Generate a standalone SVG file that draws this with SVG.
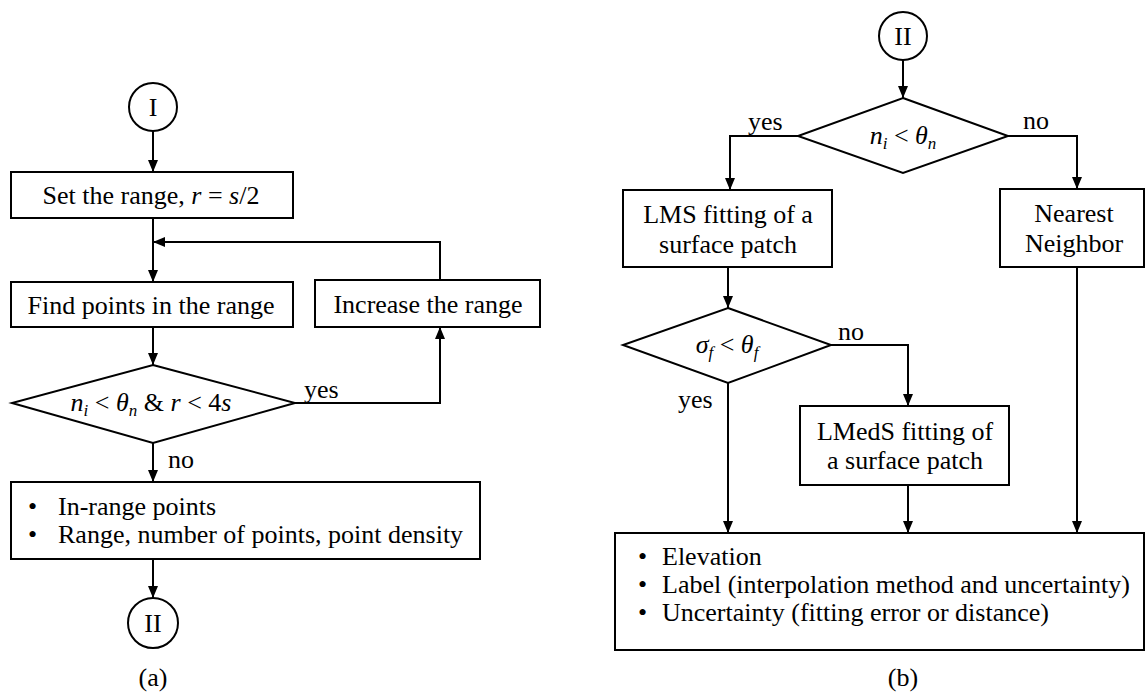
<svg xmlns="http://www.w3.org/2000/svg" width="1146" height="693" viewBox="0 0 1146 693">
<style>
.b{fill:#fff;stroke:#000;stroke-width:2}
.c{fill:none;stroke:#000;stroke-width:2}
text{font-family:"Liberation Serif","Times New Roman",serif;font-size:26px;fill:#000}
.m{text-anchor:middle}
.i{font-style:italic}
.s{font-style:italic;font-size:17px}
</style>
<defs>
<marker id="ah" viewBox="0 0 12 10" refX="12" refY="5" markerWidth="12" markerHeight="10" markerUnits="userSpaceOnUse" orient="auto">
<path d="M0,0 L12,5 L0,10 z" fill="#000"/>
</marker>
</defs>
<rect width="1146" height="693" fill="#fff"/>
<g id="connectors" class="c" marker-end="url(#ah)">
<line x1="153" y1="131" x2="153" y2="172"/>
<line x1="153" y1="218" x2="153" y2="282"/>
<polyline points="440,280 440,242 153,242"/>
<line x1="153" y1="327" x2="153" y2="365"/>
<polyline points="295,403 440,403 440,327"/>
<line x1="153" y1="443" x2="153" y2="482"/>
<line x1="153" y1="559" x2="153" y2="598"/>
<line x1="903" y1="60" x2="903" y2="98"/>
<polyline points="798,136 730,136 730,190"/>
<polyline points="1008,136 1077,136 1077,189"/>
<line x1="728" y1="267" x2="728" y2="308"/>
<polyline points="831,345 908,345 908,406"/>
<line x1="728" y1="383" x2="728" y2="533"/>
<line x1="908" y1="485" x2="908" y2="533"/>
<line x1="1077" y1="267" x2="1077" y2="533"/>
</g>
<g id="labels">
<text x="304" y="398">yes</text>
<text x="168" y="468">no</text>
<text x="748" y="130">yes</text>
<text x="1023" y="129">no</text>
<text x="838" y="340">no</text>
<text x="678" y="408">yes</text>
<text class="m" x="153" y="686">(a)</text>
<text class="m" x="903" y="686">(b)</text>
</g>
<g id="startI">
<circle class="b" cx="153" cy="107" r="24"/>
<text class="m" x="153" y="116">I</text>
</g>
<g id="setRange">
<rect class="b" x="11" y="172" width="282" height="46"/>
<text class="m" x="151" y="204">Set the range, <tspan class="i">r</tspan> = <tspan class="i">s</tspan>/2</text>
</g>
<g id="findPoints">
<rect class="b" x="11" y="282" width="282" height="45"/>
<text class="m" x="151" y="314">Find points in the range</text>
</g>
<g id="increase">
<rect class="b" x="315" y="280" width="225" height="47"/>
<text class="m" x="428" y="313">Increase the range</text>
</g>
<g id="decision1">
<polygon class="b" points="153,365 295,403 153,443 12,403"/>
<text class="m" x="151" y="411"><tspan class="i">n</tspan><tspan class="s" dy="5">i</tspan><tspan dy="-5"> &lt; </tspan><tspan class="i">θ</tspan><tspan class="s" dy="5">n</tspan><tspan dy="-5"> &amp; </tspan><tspan class="i">r</tspan> &lt; 4<tspan class="i">s</tspan></text>
</g>
<g id="outputA">
<rect class="b" x="11" y="482" width="469" height="77"/>
<text x="28" y="515">•</text>
<text x="58" y="515">In-range points</text>
<text x="28" y="543">•</text>
<text x="58" y="543">Range, number of points, point density</text>
</g>
<g id="endII">
<circle class="b" cx="153" cy="623" r="25"/>
<text class="m" x="153" y="632">II</text>
</g>
<g id="startII">
<circle class="b" cx="903" cy="36" r="24"/>
<text class="m" x="903" y="45">II</text>
</g>
<g id="decision2">
<polygon class="b" points="903,98 1008,136 903,173 798,136"/>
<text class="m" x="903" y="144"><tspan class="i">n</tspan><tspan class="s" dy="5">i</tspan><tspan dy="-5"> &lt; </tspan><tspan class="i">θ</tspan><tspan class="s" dy="5">n</tspan></text>
</g>
<g id="lms">
<rect class="b" x="623" y="190" width="209" height="77"/>
<text class="m" x="728" y="223">LMS fitting of a</text>
<text class="m" x="728" y="253">surface patch</text>
</g>
<g id="nearest">
<rect class="b" x="1000" y="189" width="144" height="78"/>
<text class="m" x="1074" y="222">Nearest</text>
<text class="m" x="1074" y="252">Neighbor</text>
</g>
<g id="decision3">
<polygon class="b" points="728,308 831,345 728,383 623,345"/>
<text class="m" x="727" y="353"><tspan class="i">σ</tspan><tspan class="s" dy="5">f</tspan><tspan dy="-5"> &lt; </tspan><tspan class="i">θ</tspan><tspan class="s" dy="5">f</tspan></text>
</g>
<g id="lmeds">
<rect class="b" x="800" y="406" width="209" height="79"/>
<text class="m" x="905" y="440">LMedS fitting of</text>
<text class="m" x="905" y="469">a surface patch</text>
</g>
<g id="outputB">
<rect class="b" x="615" y="533" width="529" height="117"/>
<text x="638" y="565">•</text>
<text x="662" y="565">Elevation</text>
<text x="638" y="593">•</text>
<text x="662" y="593">Label (interpolation method and uncertainty)</text>
<text x="638" y="621">•</text>
<text x="662" y="621">Uncertainty (fitting error or distance)</text>
</g>
</svg>
